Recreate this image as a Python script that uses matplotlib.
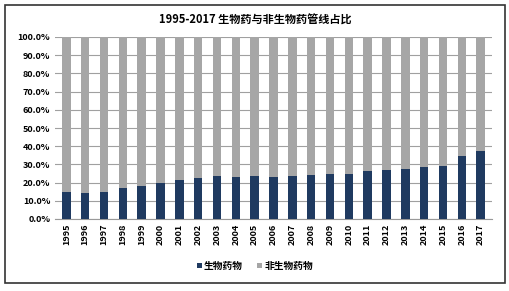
import matplotlib
matplotlib.use("Agg")
import matplotlib.pyplot as plt
from matplotlib.patches import Rectangle
from matplotlib.ticker import PercentFormatter

plt.rcParams['font.family'] = ['Noto Sans CJK SC', 'DejaVu Sans']

years = [str(y) for y in range(1995, 2018)]
bio = [14.8, 14.4, 15.0, 16.8, 18.3, 19.9, 21.7, 22.8, 23.5, 23.2, 23.5, 23.2,
       23.7, 24.3, 24.6, 24.8, 26.1, 27.0, 27.4, 28.7, 29.0, 34.5, 37.2]
non_bio = [100 - v for v in bio]

fig = plt.figure(figsize=(5.10, 2.91), dpi=100)
ax = fig.add_axes([55 / 510, 1 - 219 / 291, 437 / 510, 182 / 291])

x = range(len(years))
ax.bar(x, bio, width=0.45, color="#1f3a60", label="生物药物", zorder=3)
ax.bar(x, non_bio, width=0.45, bottom=bio, color="#a6a6a6", label="非生物药物", zorder=3)

ax.set_ylim(0, 100)
ax.set_xlim(-0.6, len(years) - 0.4)
ax.set_yticks(range(0, 101, 10))
ax.yaxis.set_major_formatter(PercentFormatter(decimals=1))
ax.set_xticks(list(x))
ax.set_xticklabels(years, rotation=90)
ax.tick_params(axis="both", labelsize=6.5, length=0)
for lab in ax.get_xticklabels() + ax.get_yticklabels():
    lab.set_fontweight("bold")
ax.grid(axis="y", color="#a0a0a0", lw=0.8, zorder=0)
for s in ["top", "right", "left"]:
    ax.spines[s].set_visible(False)
ax.spines["bottom"].set_color("#999999")

fig.text(0.5, 1 - 20 / 291, "1995-2017 生物药与非生物药管线占比",
         ha="center", va="center", fontsize=8, fontweight="bold")
fig.legend(loc="center", bbox_to_anchor=(0.5, 1 - 266 / 291), ncol=2, frameon=False,
           handlelength=0.5, handleheight=0.5, columnspacing=1.5,
           handletextpad=0.2, prop={"weight": "bold", "size": 7})

fig.patches.append(Rectangle((5 / 510, 1 - 283 / 291), 500 / 510, 278 / 291,
                             transform=fig.transFigure, fill=False,
                             edgecolor="#333333", lw=1.2))

fig.savefig("out.png", dpi=100)
